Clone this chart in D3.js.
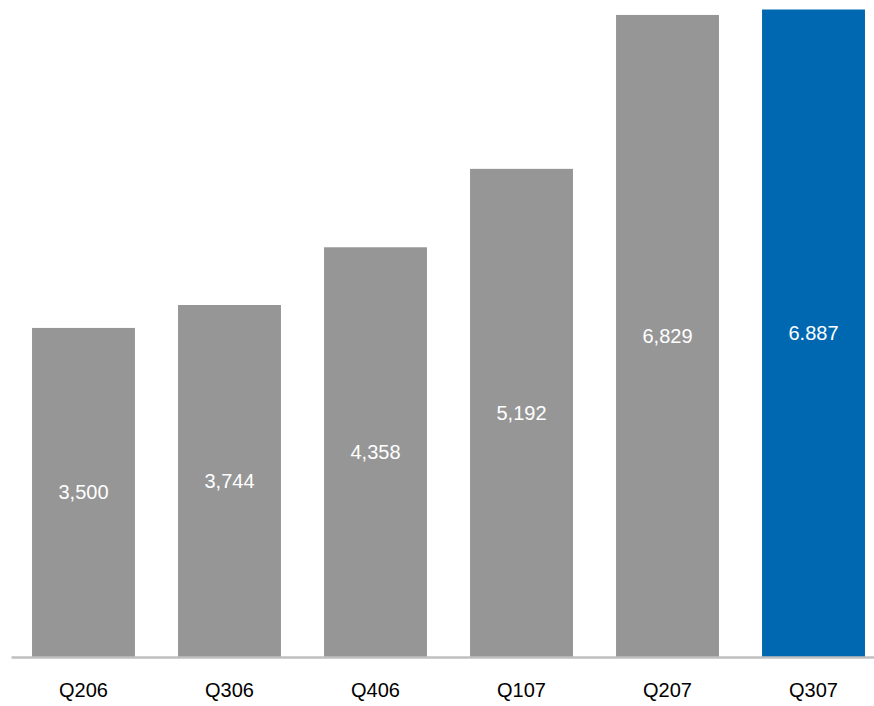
<!DOCTYPE html>
<html>
<head>
<meta charset="utf-8">
<script src="https://cdn.jsdelivr.net/npm/d3@7"></script>
<style>
  html, body { margin: 0; padding: 0; background: #ffffff; }
  svg { display: block; }
  text { font-family: "Liberation Sans", Arial, sans-serif; }
</style>
</head>
<body>
<svg id="chart" width="874" height="706"></svg>
<script>
// Quarterly totals
const categories = ["Q206", "Q306", "Q406", "Q107", "Q207", "Q307"];
const values = [3500, 3744, 4358, 5192, 6829, 6887];
const valueLabels = ["3,500", "3,744", "4,358", "5,192", "6,829", "6.887"];
const highlightIndex = [5];

const width = 874, height = 706;
const baseline = 657, topY = 9.5;

const svg = d3.select("#chart");

const x = d3.scaleBand()
  .domain(categories)
  .range([11, 886])
  .paddingInner(0.295)
  .paddingOuter(0.144);

const y = d3.scaleLinear()
  .domain([0, d3.max(values)])
  .range([baseline, topY]);

const data = categories.map((c, i) => ({ c, v: values[i], label: valueLabels[i], hi: highlightIndex.includes(i) }));

// bars
svg.append("g").selectAll("rect")
  .data(data)
  .join("rect")
  .attr("x", d => x(d.c))
  .attr("y", d => y(d.v))
  .attr("width", x.bandwidth())
  .attr("height", d => y(0) - y(d.v))
  .attr("fill", d => d.hi ? "#0068b1" : "#969696");

// value labels centred inside each bar
svg.append("g").selectAll("text")
  .data(data)
  .join("text")
  .attr("x", d => x(d.c) + x.bandwidth() / 2)
  .attr("y", d => (y(d.v) + y(0)) / 2)
  .attr("dy", "0.35em")
  .attr("text-anchor", "middle")
  .attr("font-size", 20)
  .attr("fill", "#ffffff")
  .text(d => d.label);

// category axis
const axis = svg.append("g")
  .attr("transform", `translate(0,${baseline})`)
  .call(d3.axisBottom(x).tickSize(0).tickPadding(26));
axis.select(".domain")
  .attr("stroke", "#bfbfbf")
  .attr("stroke-width", 2.5);
axis.selectAll(".tick text")
  .attr("font-size", 20)
  .attr("fill", "#000000")
  .style("font-family", "'Liberation Sans', Arial, sans-serif");
</script>
</body>
</html>
